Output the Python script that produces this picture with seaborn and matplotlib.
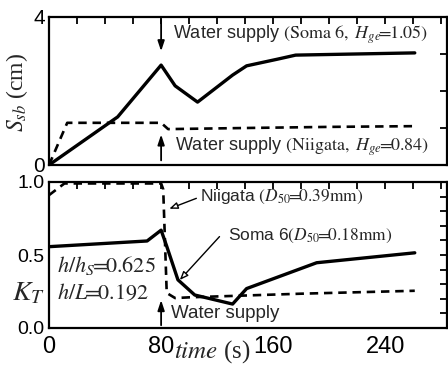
import matplotlib
matplotlib.use("Agg")
import matplotlib.pyplot as plt
import seaborn as sns
import pandas as pd
import numpy as np
from matplotlib import font_manager

sns.set_style("white")
plt.rcParams['mathtext.fontset'] = 'stix'
names = {f.name for f in font_manager.fontManager.ttflist}
SANS = ['Liberation Sans Narrow', 'Liberation Sans', 'DejaVu Sans']
SANS = [f for f in SANS if f in names] + ['DejaVu Sans']
SERIF = ['Liberation Serif', 'DejaVu Serif']
plt.rcParams['font.family'] = SANS

# ---- data ----
soma_ssb_t = [0, 49, 80, 90, 106, 131, 141, 163, 176, 261]
soma_ssb_v = [0.0, 1.3, 2.7, 2.14, 1.7, 2.43, 2.68, 2.86, 2.97, 3.03]
niig_ssb_t = [0, 13, 80, 85, 140, 200, 261]
niig_ssb_v = [0.0, 1.14, 1.14, 0.97, 1.0, 1.03, 1.05]

soma_kt_t = [0, 70, 80, 84, 92, 104, 131, 141, 191, 261]
soma_kt_v = [0.557, 0.596, 0.67, 0.56, 0.33, 0.226, 0.164, 0.27, 0.447, 0.515]
niig_kt_t = [0, 11, 80, 81.5, 84, 90, 100, 180, 261]
niig_kt_v = [0.91, 0.99, 0.99, 0.95, 0.24, 0.205, 0.21, 0.235, 0.255]

x_ticklabels = ["0", "80", "160", "240"]

W, H = 448, 374
fig = plt.figure(figsize=(W/100, H/100), dpi=100)

def box(l, t, r, b):
    return [l/W, 1 - b/H, (r - l)/W, (b - t)/H]

ax1 = fig.add_axes(box(49, 17, 447, 165))
ax2 = fig.add_axes(box(49, 182, 447, 328))

top = pd.concat([
    pd.DataFrame({"t": soma_ssb_t, "v": soma_ssb_v, "s": "Soma 6"}),
    pd.DataFrame({"t": niig_ssb_t, "v": niig_ssb_v, "s": "Niigata"}),
])
bot = pd.concat([
    pd.DataFrame({"t": soma_kt_t, "v": soma_kt_v, "s": "Soma 6"}),
    pd.DataFrame({"t": niig_kt_t, "v": niig_kt_v, "s": "Niigata"}),
])

for ax, df in ((ax1, top), (ax2, bot)):
    sns.lineplot(data=df[df.s == "Soma 6"], x="t", y="v", ax=ax, color="black",
                 lw=2.4, sort=False, estimator=None, legend=False)
    sns.lineplot(data=df[df.s == "Niigata"], x="t", y="v", ax=ax, color="black",
                 lw=1.9, sort=False, estimator=None, legend=False, dashes=False,
                 linestyle=(0, (3.2, 2.2)))
    ax.set_xlim(0, 284)
    ax.set_xlabel("")
    ax.set_ylabel("")
    for sp in ax.spines.values():
        sp.set_linewidth(1.6)
        sp.set_color("black")
    ax.set_xticks(np.arange(0, 281, 20))
    ax.tick_params(direction="in", length=5, width=1.3, top=True, right=True,
                   colors="black", which="both")

ax1.set_ylim(0, 4)
ax1.set_yticks([0, 1, 2, 3, 4])
ax1.set_yticklabels(["0", "", "", "", "4"], fontsize=15)
ax1.tick_params(axis="y", pad=3)
ax1.set_xticklabels([])

ax2.set_ylim(0, 1.0)
ax2.set_yticks(np.round(np.arange(0, 1.01, 0.1), 1))
ax2.set_yticklabels(["0.0", "", "", "", "", "0.5", "", "", "", "", "1.0"], fontsize=14)
ax2.tick_params(axis="y", pad=3)
xl = []
for t in np.arange(0, 281, 20):
    xl.append(str(t) if str(t) in x_ticklabels else "")
ax2.set_xticklabels(xl, fontsize=17)
ax2.tick_params(axis="x", pad=6)

EQ = r"\!\!=\!\!"

# ---- annotations top ----
ax1.annotate("", xy=(80, 3.0), xytext=(80, 4.0),
             arrowprops=dict(arrowstyle="-|>,head_length=0.6,head_width=0.2", color="black", lw=1.3))
ax1.annotate("", xy=(80, 0.9), xytext=(80, 0.05),
             arrowprops=dict(arrowstyle="-|>,head_length=0.6,head_width=0.2", color="black", lw=1.3))
ax1.text(88.5, 3.52, r"Water supply $\mathrm{(Soma\ 6,}\ H_{ge}" + EQ + r"\mathrm{1.05)}$",
         fontsize=13, va="center", ha="left")
ax1.text(90, 0.5, r"Water supply $\mathrm{(Niigata,}\ H_{ge}" + EQ + r"\mathrm{0.84)}$",
         fontsize=13, va="center", ha="left")

# ---- annotations bottom ----
ax2.annotate("", xy=(84, 0.81), xytext=(107, 0.895),
             arrowprops=dict(arrowstyle="-|>,head_length=0.5,head_width=0.2", color="black",
                             lw=1.0, fc="white"))
ax2.text(108, 0.9, r"Niigata $\mathit{(D_{50}}" + EQ + r"\mathrm{0.39mm)}$", fontsize=12.5,
         va="center", ha="left")
ax2.annotate("", xy=(92, 0.315), xytext=(123, 0.64),
             arrowprops=dict(arrowstyle="-|>,head_length=0.5,head_width=0.2", color="black",
                             lw=1.0, fc="white"))
ax2.text(128, 0.63, r"Soma 6$\mathrm{(}D_{50}" + EQ + r"\mathrm{0.18mm)}$", fontsize=12.5,
         va="center", ha="left")
ax2.annotate("", xy=(80, 0.21), xytext=(80, 0.0),
             arrowprops=dict(arrowstyle="-|>,head_length=0.6,head_width=0.2", color="black", lw=1.3))
ax2.text(87, 0.1, "Water supply", fontsize=13.5, va="center", ha="left")
ax2.text(6, 0.43, r"$h/h_S" + EQ + r"\mathrm{0.625}$", fontsize=16, va="center", ha="left")
ax2.text(6, 0.235, r"$h/L" + EQ + r"\mathrm{0.192}$", fontsize=16, va="center", ha="left")

# ---- axis labels ----
fig.text(17/W, 1 - 92/H, r"$S_{sb}$ (cm)", rotation=90, fontsize=17, family=SERIF,
         va="center", ha="center")
fig.text(28/W, 1 - 293/H, r"$K_T$", fontsize=20, va="center", ha="center")
fig.text(212/W, 1 - 352/H, r"$time$ (s)", fontsize=18, family=SERIF,
         va="center", ha="center")

fig.savefig("out.png", dpi=100)
